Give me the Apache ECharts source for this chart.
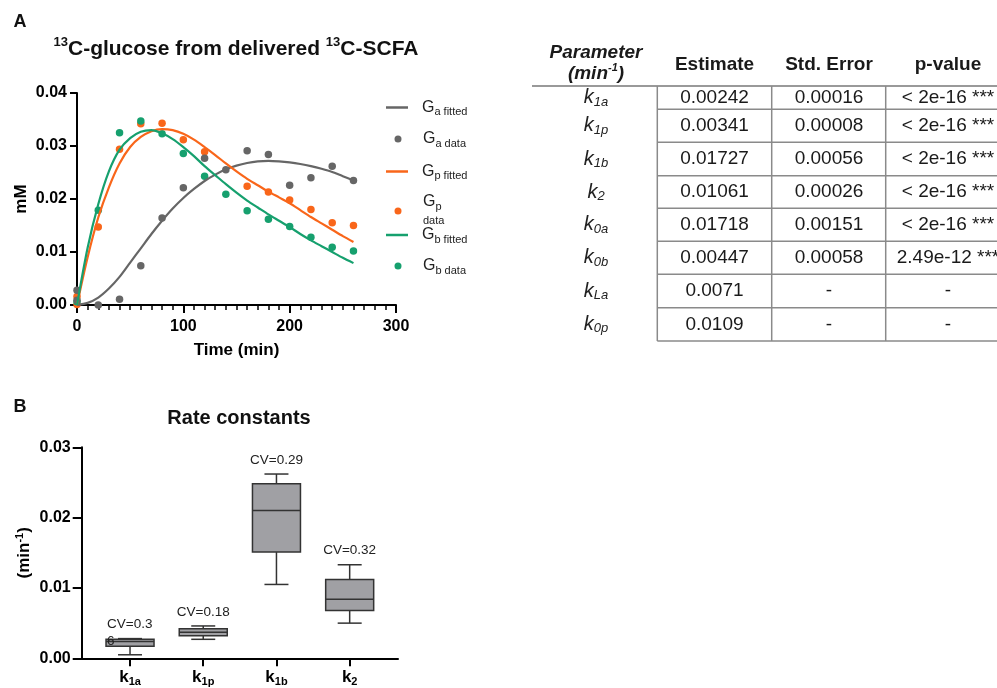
<!DOCTYPE html>
<html><head><meta charset="utf-8">
<script src="https://cdn.jsdelivr.net/npm/echarts@6/dist/echarts.min.js"></script>
<style>html,body{margin:0;padding:0;background:#fff}#c{width:997px;height:688px}</style>
</head><body><div id="c"></div>
<script>
const FONT = '"Liberation Sans", Arial, Helvetica, sans-serif';

// ---------- Panel A data ----------
const sampleTimes = [0, 0, 20, 40, 60, 80, 100, 120, 140, 160, 180, 200, 220, 240, 260];
const gaData = [0.0028, 0.0009, 0.0000, 0.0011, 0.0074, 0.0164, 0.0221, 0.0277, 0.0255, 0.0291, 0.0284, 0.0226, 0.0240, 0.0262, 0.0235];
const gpData = [0.0016, 0.0001, 0.0147, 0.0294, 0.0342, 0.0343, 0.0312, 0.0289, null, 0.0224, 0.0213, 0.0198, 0.0180, 0.0155, 0.0150];
const gbData = [0.0006, null, 0.0179, 0.0325, 0.0347, 0.0323, 0.0286, 0.0243, 0.0209, 0.0178, 0.0162, 0.0148, 0.0128, 0.0109, 0.0102];

const fitTimes = [0, 10, 20, 30, 40, 50, 60, 70, 80, 90, 100, 110, 120, 130, 140, 150, 160, 170, 180, 190, 200, 210, 220, 230, 240, 250, 260];
const gaFit = [0, 0.0004, 0.0014, 0.0031, 0.0053, 0.0080, 0.0107, 0.0134, 0.0159, 0.0182, 0.0202, 0.0219, 0.0234, 0.0246, 0.0256, 0.0263, 0.0268, 0.0271, 0.0272, 0.0271, 0.0269, 0.0266, 0.0262, 0.0257, 0.0251, 0.0243, 0.0235];
const gpFit = [0, 0.0090, 0.0165, 0.0222, 0.0267, 0.0298, 0.0317, 0.0328, 0.0332, 0.0330, 0.0323, 0.0312, 0.0298, 0.0283, 0.0267, 0.0252, 0.0238, 0.0226, 0.0214, 0.0203, 0.0192, 0.0179, 0.0166, 0.0154, 0.0142, 0.0130, 0.0119];
const gbFit = [0, 0.0108, 0.0190, 0.0252, 0.0293, 0.0315, 0.0327, 0.0330, 0.0324, 0.0313, 0.0298, 0.0281, 0.0262, 0.0245, 0.0228, 0.0212, 0.0197, 0.0184, 0.0171, 0.0159, 0.0147, 0.0134, 0.0122, 0.0111, 0.0100, 0.0089, 0.0079];

const seriesNames = ['Ga fitted', 'Ga data', 'Gp fitted', 'Gp data', 'Gb fitted', 'Gb data'];
const legendSubs = ['a fitted', 'a data', 'p fitted', 'p|data', 'b fitted', 'b data'];

// ---------- Panel B data ----------
const boxCats = ['1a', '1p', '1b', '2'];
const boxMin = [0.0005, 0.0027, 0.0105, 0.0050];
const boxQ1  = [0.0017, 0.0032, 0.0151, 0.0068];
const boxMed = [0.0024, 0.0037, 0.0210, 0.0084];
const boxQ3  = [0.0027, 0.0042, 0.0248, 0.0112];
const boxMax = [0.0028, 0.0046, 0.0262, 0.0133];
const cvLabels = ['CV=0.3\n6', 'CV=0.18', 'CV=0.29', 'CV=0.32'];

// ---------- Table data ----------
const tableHeaders = ['Estimate', 'Std. Error', 'p-value'];
const paramSubs = ['1a', '1p', '1b', '2', '0a', '0b', 'La', '0p'];
const estimates = ['0.00242', '0.00341', '0.01727', '0.01061', '0.01718', '0.00447', '0.0071', '0.0109'];
const stdErrors = ['0.00016', '0.00008', '0.00056', '0.00026', '0.00151', '0.00058', '-', '-'];
const pValues = ['< 2e-16 ***', '< 2e-16 ***', '< 2e-16 ***', '< 2e-16 ***', '< 2e-16 ***', '2.49e-12 ***', '-', '-'];

// ---------- colours ----------
const C_GRAY = '#666666', C_ORANGE = '#F9661A', C_GREEN = '#16A06E';

const pairs = (xs, ys) => xs.map((x, i) => ys[i] == null ? null : [x, ys[i]]).filter(d => d);

const chart = echarts.init(document.getElementById('c'), null, {renderer: 'canvas'});

// legends (one per item so their rows can be placed like the reference)
const legendRich = {
  g: {fontSize: 16, lineHeight: 20, fontFamily: FONT, color: '#222', padding: [0, 0, 0, 9]},
  s: {fontSize: 11, lineHeight: 12, fontFamily: FONT, color: '#222', verticalAlign: 'bottom'},
  d: {fontSize: 11, lineHeight: 18, fontFamily: FONT, color: '#222', padding: [0, 0, 0, 9]}
};
const legendTops = [99.5, 131, 163.5, 194, 227, 258];
const legends = seriesNames.map((nm, i) => {
  const isLine = nm.indexOf('fitted') >= 0;
  return {
    left: isLine ? 386 : 394.5, top: legendTops[i], orient: 'vertical', padding: 0,
    itemWidth: 22, itemHeight: isLine ? 2.5 : 7,
    symbolKeepAspect: !isLine,
    selectedMode: false,
    data: [{name: nm, icon: isLine ? 'rect' : 'circle', itemStyle: {opacity: 1}}],
    textStyle: {rich: legendRich},
    formatter: function (name) {
      const sub = legendSubs[seriesNames.indexOf(name)];
      if (sub.indexOf('|') >= 0) {
        const p = sub.split('|');
        return '{g|G}{s|' + p[0] + '}\n{d|' + p[1] + '}';
      }
      return '{g|G}{s|' + sub + '}';
    }
  };
});

// table graphics
const tableEls = [];
const colX = [532, 657.3, 771.7, 885.7, 1010];
const rowLines = [86, 109.3, 142.3, 175.7, 208.3, 241.3, 274.3, 307.7, 341];
const lineStyle = {stroke: '#8a8a8a', lineWidth: 1.5};
tableEls.push({type: 'line', shape: {x1: colX[0], y1: rowLines[0], x2: 997, y2: rowLines[0]}, style: {stroke: '#999', lineWidth: 2}});
for (let r = 1; r < rowLines.length; r++) {
  tableEls.push({type: 'line', shape: {x1: colX[1], y1: rowLines[r], x2: 997, y2: rowLines[r]}, style: lineStyle});
}
for (let c = 1; c <= 3; c++) {
  tableEls.push({type: 'line', shape: {x1: colX[c], y1: rowLines[0], x2: colX[c], y2: rowLines[rowLines.length - 1]}, style: lineStyle});
}
const colCenters = [596, 714.5, 829, 948];
const headY = 64.3;
tableEls.push({type: 'text', style: {text: 'Parameter', x: colCenters[0], y: 52.7, align: 'center', verticalAlign: 'middle', font: 'italic bold 19px ' + FONT, fill: '#1a1a1a'}});
tableEls.push({type: 'text', style: {text: '{a|(min}{b|-1}{a|)}', x: colCenters[0], y: 73.3, align: 'center', verticalAlign: 'middle',
  rich: {a: {font: 'italic bold 19px ' + FONT, fill: '#1a1a1a', lineHeight: 22}, b: {font: 'italic bold 11px ' + FONT, fill: '#1a1a1a', verticalAlign: 'top', lineHeight: 12}}}});
tableHeaders.forEach((h, i) => {
  tableEls.push({type: 'text', style: {text: h, x: colCenters[i + 1], y: headY, align: 'center', verticalAlign: 'middle', font: 'bold 19px ' + FONT, fill: '#1a1a1a'}});
});
paramSubs.forEach((sub, r) => {
  const cy = (rowLines[r] + rowLines[r + 1]) / 2;
  tableEls.push({type: 'text', style: {text: '{k|k}{s|' + sub + '}', x: colCenters[0], y: cy, align: 'center', verticalAlign: 'middle',
    rich: {k: {font: 'italic 20px ' + FONT, fill: '#222', lineHeight: 22}, s: {font: 'italic 13px ' + FONT, fill: '#222', verticalAlign: 'bottom', lineHeight: 14}}}});
  [estimates[r], stdErrors[r], pValues[r]].forEach((v, j) => {
    tableEls.push({type: 'text', style: {text: v, x: colCenters[j + 1], y: cy, align: 'center', verticalAlign: 'middle', font: '19px ' + FONT, fill: '#1a1a1a'}});
  });
});

// titles / panel letters
const titleEls = [
  {type: 'text', style: {text: 'A', x: 20, y: 22.5, align: 'center', verticalAlign: 'middle', font: 'bold 18px ' + FONT, fill: '#111'}},
  {type: 'text', style: {text: '{sup|13}{t|C-glucose from delivered }{sup|13}{t|C-SCFA}', x: 236, y: 49, align: 'center', verticalAlign: 'middle',
    rich: {t: {font: 'bold 21px ' + FONT, fill: '#111', lineHeight: 26}, sup: {font: 'bold 13px ' + FONT, fill: '#111', verticalAlign: 'top', lineHeight: 14}}}},
  {type: 'text', style: {text: 'B', x: 20, y: 407, align: 'center', verticalAlign: 'middle', font: 'bold 18px ' + FONT, fill: '#111'}},
  {type: 'text', style: {text: 'Rate constants', x: 239, y: 418, align: 'center', verticalAlign: 'middle', font: 'bold 20px ' + FONT, fill: '#111'}}
];

const axisLine = {show: true, onZero: false, lineStyle: {color: '#000', width: 2}};
const tickLabel = {color: '#000', fontFamily: FONT, fontWeight: 'bold', fontSize: 16};

const option = {
  animation: false,
  backgroundColor: '#fff',
  legend: legends,
  grid: [
    {left: 77, top: 93, width: 319, height: 212, containLabel: false, outerBoundsMode: 'none'},
    {left: 81.7, top: 447.3, width: 316.3, height: 211, containLabel: false, outerBoundsMode: 'none'}
  ],
  xAxis: [
    {gridIndex: 0, type: 'value', min: 0, max: 300, interval: 100,
     axisLine: axisLine, axisTick: {show: true, length: 8, lineStyle: {color: '#000', width: 2}},
     minorTick: {show: true, splitNumber: 10, length: 5, lineStyle: {color: '#000', width: 1.5}},
     splitLine: {show: false}, minorSplitLine: {show: false},
     axisLabel: Object.assign({margin: 14}, tickLabel),
     name: 'Time (min)', nameLocation: 'middle', nameGap: 37, nameMoveOverlap: false,
     nameTextStyle: {color: '#000', fontFamily: FONT, fontWeight: 'bold', fontSize: 17}},
    {gridIndex: 1, type: 'value', min: -0.66, max: 3.66,
     axisLine: axisLine,
     axisTick: {show: true, length: 8, customValues: [0, 1, 2, 3], lineStyle: {color: '#000', width: 2}},
     splitLine: {show: false},
     axisLabel: {show: true, margin: 9, customValues: [0, 1, 2, 3],
       formatter: v => '{k|k}{s|' + boxCats[Math.round(v)] + '}',
       rich: {k: {fontFamily: FONT, fontWeight: 'bold', fontSize: 17, color: '#000', lineHeight: 20},
              s: {fontFamily: FONT, fontWeight: 'bold', fontSize: 11, color: '#000', lineHeight: 12, verticalAlign: 'bottom'}}}}
  ],
  yAxis: [
    {gridIndex: 0, type: 'value', min: 0, max: 0.04, interval: 0.01,
     axisLine: axisLine, axisTick: {show: true, length: 7, lineStyle: {color: '#000', width: 2}},
     splitLine: {show: false},
     axisLabel: Object.assign({margin: 10, formatter: v => v.toFixed(2)}, tickLabel),
     name: 'mM', nameLocation: 'middle', nameGap: 47, nameMoveOverlap: false,
     nameTextStyle: {color: '#000', fontFamily: FONT, fontWeight: 'bold', fontSize: 17}},
    {gridIndex: 1, type: 'value', min: 0, max: 0.03, interval: 0.01,
     axisLine: axisLine, axisTick: {show: true, length: 9, lineStyle: {color: '#000', width: 2}},
     splitLine: {show: false},
     axisLabel: Object.assign({margin: 11, formatter: v => v.toFixed(2)}, tickLabel),
     name: '{p|(min}{sup|-1}{p|)}', nameLocation: 'middle', nameGap: 47, nameMoveOverlap: false,
     nameTextStyle: {rich: {p: {color: '#000', fontFamily: FONT, fontWeight: 'bold', fontSize: 17, lineHeight: 20},
                            sup: {color: '#000', fontFamily: FONT, fontWeight: 'bold', fontSize: 11, lineHeight: 12, verticalAlign: 'top'}}}}
  ],
  graphic: {elements: titleEls.concat(tableEls)},
  series: [
    {name: 'Ga fitted', type: 'line', xAxisIndex: 0, yAxisIndex: 0, data: pairs(fitTimes, gaFit), smooth: 0.3, symbol: 'none', color: C_GRAY, lineStyle: {width: 2.2, color: C_GRAY}},
    {name: 'Gp fitted', type: 'line', xAxisIndex: 0, yAxisIndex: 0, data: pairs(fitTimes, gpFit), smooth: 0.3, symbol: 'none', color: C_ORANGE, lineStyle: {width: 2.2, color: C_ORANGE}},
    {name: 'Gb fitted', type: 'line', xAxisIndex: 0, yAxisIndex: 0, data: pairs(fitTimes, gbFit), smooth: 0.3, symbol: 'none', color: C_GREEN, lineStyle: {width: 2.2, color: C_GREEN}},
    {name: 'Gp data', type: 'scatter', xAxisIndex: 0, yAxisIndex: 0, data: pairs(sampleTimes, gpData), symbolSize: 7.5, color: C_ORANGE, itemStyle: {color: C_ORANGE, opacity: 1}},
    {name: 'Gb data', type: 'scatter', xAxisIndex: 0, yAxisIndex: 0, data: pairs(sampleTimes, gbData), symbolSize: 7.5, color: C_GREEN, itemStyle: {color: C_GREEN, opacity: 1}},
    {name: 'Ga data', type: 'scatter', xAxisIndex: 0, yAxisIndex: 0, data: pairs(sampleTimes, gaData), symbolSize: 7.5, color: C_GRAY, itemStyle: {color: C_GRAY, opacity: 1}},
    {name: 'Rate constants', type: 'custom', xAxisIndex: 1, yAxisIndex: 1,
     data: boxCats.map((c, i) => [i, boxMin[i], boxQ1[i], boxMed[i], boxQ3[i], boxMax[i]]),
     encode: {x: 0, y: [1, 2, 3, 4, 5]},
     renderItem: function (params, api) {
       const i = params.dataIndex;
       const x = api.value(0);
       const pMin = api.coord([x, api.value(1)]);
       const pQ1 = api.coord([x, api.value(2)]);
       const pMed = api.coord([x, api.value(3)]);
       const pQ3 = api.coord([x, api.value(4)]);
       const pMax = api.coord([x, api.value(5)]);
       const cx = pMin[0];
       const hw = 24, cw = 12;
       const st = {stroke: '#333', lineWidth: 1.5};
       const label = cvLabels[i];
       const multi = label.indexOf('\n') >= 0;
       return {type: 'group', children: [
         {type: 'line', shape: {x1: cx, y1: pMax[1], x2: cx, y2: pQ3[1]}, style: st},
         {type: 'line', shape: {x1: cx, y1: pQ1[1], x2: cx, y2: pMin[1]}, style: st},
         {type: 'line', shape: {x1: cx - cw, y1: pMax[1], x2: cx + cw, y2: pMax[1]}, style: st},
         {type: 'line', shape: {x1: cx - cw, y1: pMin[1], x2: cx + cw, y2: pMin[1]}, style: st},
         {type: 'rect', shape: {x: cx - hw, y: pQ3[1], width: hw * 2, height: pQ1[1] - pQ3[1]}, style: {fill: '#A0A0A4', stroke: '#333', lineWidth: 1.5}},
         {type: 'line', shape: {x1: cx - hw, y1: pMed[1], x2: cx + hw, y2: pMed[1]}, style: st},
         {type: 'text', style: {text: label, x: multi ? cx - 23 : cx, y: pMax[1] - 22.5, align: multi ? 'left' : 'center', verticalAlign: 'top',
           lineHeight: 17, font: '13.5px ' + FONT, fill: '#222'}}
       ]};
     }}
  ]
};
chart.setOption(option);
</script>
</body></html>
